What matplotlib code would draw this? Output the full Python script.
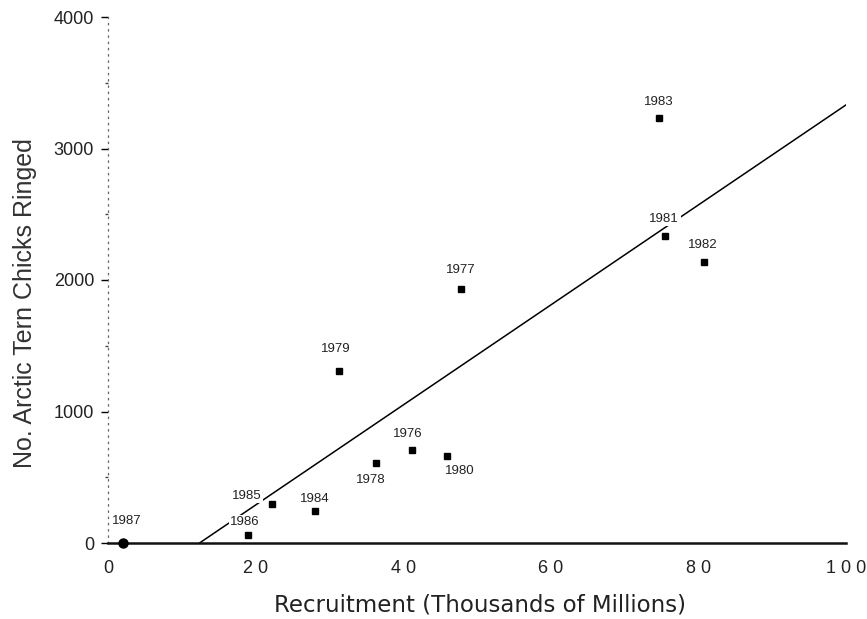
import numpy as np
import matplotlib.pyplot as plt
from matplotlib.ticker import MultipleLocator

# recruitment (thousands of millions) vs arctic tern chicks ringed, by year
years = ['1987', '1986', '1985', '1984', '1979', '1978', '1976', '1980',
         '1977', '1983', '1981', '1982']
recruitment = [2.0, 19.0, 22.2, 28.1, 31.3, 36.3, 41.2, 46.0, 47.8, 74.7, 75.5, 80.7]
chicks = [0, 60, 297, 245, 1310, 611, 710, 664, 1931, 3234, 2337, 2139]

# label offsets from each point, in pixels
label_dx = [4, -3, -25, -1, -3, -5, -4, 12, 0, -1, -1, -1]
label_dy = [22, 13, 8, 12, 22, -17, 16, -15, 19, 16, 17, 17]

xticks = [0, 20, 40, 60, 80, 100]
xticklabels = ['0', '2 0', '4 0', '6 0', '8 0', '1 0 0']
yticks = [0, 1000, 2000, 3000, 4000]

plt.rcParams['font.family'] = ['Liberation Sans', 'DejaVu Sans']

fig = plt.figure(figsize=(8.67, 6.19), dpi=100)
ax = fig.add_axes([108/867, 1 - 543/619, 738/867, 526/619])

x = np.array(recruitment)
y = np.array(chicks)

# least squares line, drawn from where it crosses zero
slope, intercept = np.polyfit(x, y, 1)
x0 = -intercept / slope
xl = np.array([x0, 100])
ax.plot(xl, slope * xl + intercept, color='black', lw=1.1, zorder=2)

for i in range(len(years)):
    mk = 'o' if chicks[i] == 0 else 's'
    ms = 6.5 if mk == 'o' else 4.5
    ax.plot(x[i], y[i], marker=mk, ms=ms, color='black', ls='none',
            zorder=4, clip_on=False)
    ax.annotate(years[i], (x[i], y[i]), xytext=(label_dx[i], label_dy[i]),
                textcoords='offset pixels', ha='center', va='center',
                fontsize=9.5, color='#222222', zorder=3,
                bbox=dict(facecolor='white', edgecolor='none', pad=1))

ax.set_xlim(0, 100)
ax.set_ylim(0, 4000)

ax.spines['top'].set_visible(False)
ax.spines['right'].set_visible(False)
ax.spines['bottom'].set_linewidth(1.8)
ax.spines['bottom'].set_color('#111111')
ax.spines['left'].set_linestyle((0, (1, 4)))
ax.spines['left'].set_color('#666666')
ax.spines['left'].set_linewidth(0.9)

ax.set_xticks(xticks)
ax.set_xticklabels(xticklabels)
ax.set_yticks(yticks)
ax.yaxis.set_minor_locator(MultipleLocator(500))
ax.tick_params(axis='x', length=0, pad=12, labelsize=13, labelcolor='#222222')
ax.tick_params(axis='y', which='major', direction='out', length=5, width=1,
               pad=5, labelsize=13, labelcolor='#222222')
ax.tick_params(axis='y', which='minor', length=2, width=1, color='#444444')

fig.text(25/867, 1 - 303/619, 'No. Arctic Tern Chicks Ringed', rotation=90,
         ha='center', va='center', fontsize=18, color='#333333')
fig.text(480/867, 1 - 605/619, 'Recruitment (Thousands of Millions)',
         ha='center', va='center', fontsize=16.5, color='#222222',
         family=['DejaVu Sans'])

fig.savefig('out.png', dpi=100)
